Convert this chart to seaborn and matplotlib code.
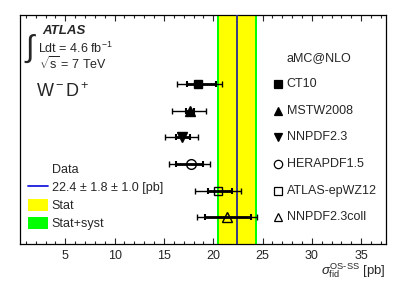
import numpy as np
import matplotlib
matplotlib.use("Agg")
import matplotlib.pyplot as plt
import matplotlib.transforms as mtransforms
from matplotlib.lines import Line2D
from matplotlib.patches import Patch
import seaborn as sns

# Theory predictions (aMC@NLO with different PDF sets)
models = ['CT10', 'MSTW2008', 'NNPDF2.3', 'HERAPDF1.5', 'ATLAS-epWZ12', 'NNPDF2.3coll']
central = [18.5, 17.6, 16.8, 17.7, 20.5, 21.4]
inner_lo = [17.3, 17.2, 16.2, 16.2, 19.5, 19.2]
inner_hi = [20.3, 18.0, 17.6, 19.0, 21.9, 23.8]
outer_lo = [16.3, 15.8, 15.1, 15.5, 18.2, 18.4]
outer_hi = [20.9, 19.3, 18.5, 19.7, 22.8, 24.4]
markers = ['s', '^', 'v', 'o', 's', '^']
filled = [True, True, True, False, False, False]

# Measurement
data_val = 22.4
data_stat = 1.8
data_syst = 1.0
data_tot = np.hypot(data_stat, data_syst)

sns.set_style('ticks')
plt.rcParams['font.family'] = ['Liberation Sans', 'DejaVu Sans']
plt.rcParams['mathtext.fontset'] = 'custom'
plt.rcParams['mathtext.rm'] = 'Liberation Sans'
plt.rcParams['mathtext.it'] = 'Liberation Sans:italic'

fig = plt.figure(figsize=(4.07, 2.92), dpi=100)
ax = fig.add_axes([0.049, 0.164, 0.899, 0.785])

# Bands
ax.axvspan(data_val - data_tot, data_val + data_tot, color='#00ff00', lw=0, zorder=1)
ax.axvspan(data_val - data_stat, data_val + data_stat, color='#ffff00', lw=0, zorder=2)
ax.axvline(data_val, color='#2a2a90', lw=1.3, zorder=3)

rows = np.arange(1, len(models) + 1)

# Error bars
for r, c, il, ih, ol, oh, m, f in zip(rows, central, inner_lo, inner_hi, outer_lo, outer_hi, markers, filled):
    ax.errorbar([c], [r], xerr=[[c - ol], [oh - c]], fmt='none', ecolor='black',
                elinewidth=1.0, capsize=2.5, capthick=1.0, zorder=4)
    ax.errorbar([c], [r], xerr=[[c - il], [ih - c]], fmt='none', ecolor='black',
                elinewidth=2.0, capsize=2.5, capthick=1.5, zorder=4)
    ax.plot([c], [r], marker=m, ms=7 if m != 's' else 6.2, mec='black', mew=1.0,
            mfc='black' if f else 'none', ls='none', zorder=5)

# Right-hand legend of models
trans = mtransforms.blended_transform_factory(ax.transAxes, ax.transData)
ax.text(0.729, 0, 'aMC@NLO', transform=trans, fontsize=9, va='center', ha='left')
for r, name, m, f in zip(rows, models, markers, filled):
    ax.plot([0.705], [r], transform=trans, marker=m, ms=6 if m != 's' else 5.5,
            mec='black', mew=0.9, mfc='black' if f else 'none', ls='none', clip_on=False)
    ax.text(0.729, r, name, transform=trans, fontsize=9, va='center', ha='left')

# Data legend
handles = [Line2D([], [], color='none'),
           Line2D([], [], color='#1a1ae0', lw=1.3),
           Patch(facecolor='#ffff00', edgecolor='none'),
           Patch(facecolor='#00ff00', edgecolor='none')]
labels = ['Data', f'{data_val} \u00b1 {data_stat} \u00b1 {data_syst} [pb]', 'Stat', 'Stat+syst']
ax.legend(handles, labels, loc='lower left', bbox_to_anchor=(0.022, 0.06), frameon=False,
          fontsize=9, handlelength=1.6, handleheight=1.0, handletextpad=0.3,
          labelspacing=0.42, borderpad=0, borderaxespad=0)

# ATLAS labels
ax.text(0.01, 0.85, r'$\int$', transform=ax.transAxes, fontsize=22, va='center')
ax.text(0.06, 0.93, 'ATLAS', transform=ax.transAxes, fontsize=9.5, fontweight='bold',
        fontstyle='italic', va='center')
ax.text(0.05, 0.855, r'Ldt = 4.6 fb$^{-1}$', transform=ax.transAxes, fontsize=9, va='center')
ax.text(0.053, 0.787, r'$\sqrt{\rm s}$ = 7 TeV', transform=ax.transAxes, fontsize=9, va='center')
ax.text(0.045, 0.667, r'W$^{\rm -}$D$^{\rm +}$', transform=ax.transAxes, fontsize=13, va='center')

# Axes styling
ax.set_xlim(0.4, 37.5)
ax.set_ylim(7.02, -1.62)
ax.set_yticks([])
ax.set_xticks([5, 10, 15, 20, 25, 30, 35])
ax.set_xticks(np.arange(1, 38), minor=True)
ax.tick_params(axis='x', which='major', direction='in', length=4.5, width=0.8,
               top=True, bottom=True, labelsize=9, pad=4.5)
ax.tick_params(axis='x', which='minor', direction='in', length=2.2, width=0.8,
               top=True, bottom=True)
for s in ax.spines.values():
    s.set_linewidth(0.9)
    s.set_color('black')
    s.set_visible(True)

fig.text(0.948, 0.072, r'$\sigma^{\rm OS\text{-}SS}_{\rm fid}$ [pb]', ha='right', va='center', fontsize=9.5)

fig.savefig('out.png', dpi=100)
